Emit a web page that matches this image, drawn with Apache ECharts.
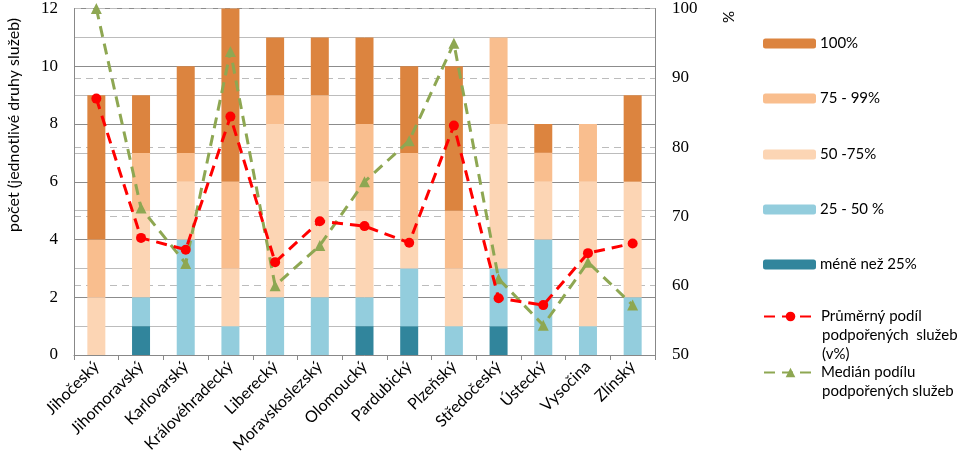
<!DOCTYPE html>
<html><head><meta charset="utf-8">
<script src="https://cdn.jsdelivr.net/npm/echarts@6/dist/echarts.min.js"></script>
<style>html,body{margin:0;padding:0;background:#fff}#c{width:965px;height:470px}</style>
</head><body><div id="c"></div>
<script>
const categories = ['Jihočeský','Jihomoravský','Karlovarský','Královéhradecký','Liberecký','Moravskoslezský','Olomoucký','Pardubický','Plzeňský','Středočeský','Ústecký','Vysočina','Zlínský'];
const lt25   = [0,1,0,0,0,0,1,1,0,1,0,0,0];
const p25_50 = [0,1,4,1,2,2,1,2,1,2,4,1,2];
const p50_75 = [2,3,2,2,6,4,3,1,2,5,2,5,4];
const p75_99 = [2,2,1,3,1,3,3,3,2,3,1,2,0];
const p100   = [5,2,3,6,2,2,3,3,5,0,1,0,3];
const avgShare    = [87.0,66.9,65.2,84.4,63.4,69.3,68.6,66.2,83.1,58.2,57.2,64.7,66.1];
const medianShare = [100,71.2,63.2,93.8,60,65.8,75,80.9,95,61,54.3,63.4,57.2];
const leftTicks = [0,2,4,6,8,10,12];

const names = {lt25:'méně než 25%', p25:'25 - 50 %', p50:'50 -75%', p75:'75 - 99%', p100:'100%',
  avg:'Průměrný podíl podpořených  služeb (v%)', med:'Medián podílu podpořených služeb'};
const colors = {lt25:'#31859c', p25:'#93cddd', p50:'#fcd5b4', p75:'#f9be8e', p100:'#dc843f', avg:'#ff0000', med:'#8ea752'};
const sans = 'Lato, "Noto Sans", sans-serif';
const serif = '"Liberation Serif", "DejaVu Serif", serif';

function bar(key, data){
  return {name:names[key], type:'bar', stack:'s', data:data, barWidth:18, yAxisIndex:0,
    itemStyle:{color:colors[key]}, emphasis:{disabled:true}};
}
function leg(name, top, fmt){
  return {data:[name], orient:'vertical', left:763, top:top, itemWidth:53, itemHeight:10,
    itemGap:0, padding:0, selectedMode:false,
    textStyle:{fontFamily:sans, fontSize:15, color:'#000', padding:[0,0,0,-1]},
    formatter: fmt || undefined};
}
const chart = echarts.init(document.getElementById('c'), null, {renderer:'canvas'});
chart.setOption({
  animation:false,
  grid:{left:74, right:310, top:6, bottom:115, containLabel:false},
  xAxis:{type:'category', data:categories,
    axisLine:{lineStyle:{color:'#888', width:1}},
    axisTick:{show:true, length:5, lineStyle:{color:'#888'}},
    axisLabel:{rotate:45, interval:0, fontFamily:sans, fontSize:16, color:'#000', margin:9}},
  yAxis:[
    {type:'value', min:0, max:12, interval:1,
     axisLine:{show:true, lineStyle:{color:'#888'}}, axisTick:{show:false},
     axisLabel:{fontFamily:serif, fontSize:17, color:'#000', margin:16,
       formatter:function(v){return leftTicks.indexOf(v)>=0 ? String(v) : '';}},
     splitLine:{show:true, lineStyle:{color:['#8c8c8c','#bcbcbc'], width:1}}},
    {type:'value', min:50, max:100, interval:10, position:'right',
     axisLine:{show:true, lineStyle:{color:'#888'}}, axisTick:{show:false},
     axisLabel:{fontFamily:serif, fontSize:17, color:'#000', margin:17},
     splitLine:{show:true, lineStyle:{color:'#bcbcbc', type:[7,5], width:1}}}
  ],
  legend:[
    leg(names.p100, 36), leg(names.p75, 91), leg(names.p50, 147), leg(names.p25, 202), leg(names.lt25, 257),
    Object.assign(leg(names.avg, 309, function(){return 'Průměrný podíl';}), {itemHeight:12}),
    Object.assign(leg(names.med, 365, function(){return 'Medián podílu';}), {itemHeight:12})
  ],
  graphic:[
    {type:'text', x:14, y:125, rotation:Math.PI/2,
     style:{text:'počet (jednotlivé druhy služeb)', font:'16px '+sans, fill:'#000', align:'center', verticalAlign:'middle'}},
    {type:'text', x:729, y:17, rotation:Math.PI/2,
     style:{text:'%', font:'15px '+sans, fill:'#000', align:'center', verticalAlign:'middle'}},
    {type:'text', x:822, y:328, style:{text:'podpořených  služeb', font:'15px '+sans, fill:'#000'}},
    {type:'text', x:822, y:347, style:{text:'(v%)', font:'15px '+sans, fill:'#000'}},
    {type:'text', x:822, y:384, style:{text:'podpořených služeb', font:'15px '+sans, fill:'#000'}}
  ],
  series:[
    bar('lt25', lt25), bar('p25', p25_50), bar('p50', p50_75), bar('p75', p75_99), bar('p100', p100),
    {name:names.avg, type:'line', yAxisIndex:1, data:avgShare, symbol:'circle', symbolSize:10,
     itemStyle:{color:colors.avg}, lineStyle:{color:colors.avg, width:3, type:[11,7]}, z:4},
    {name:names.med, type:'line', yAxisIndex:1, data:medianShare, symbol:'triangle', symbolSize:11,
     itemStyle:{color:colors.med}, lineStyle:{color:colors.med, width:3, type:[11,7]}, z:3}
  ]
});
</script></body></html>
